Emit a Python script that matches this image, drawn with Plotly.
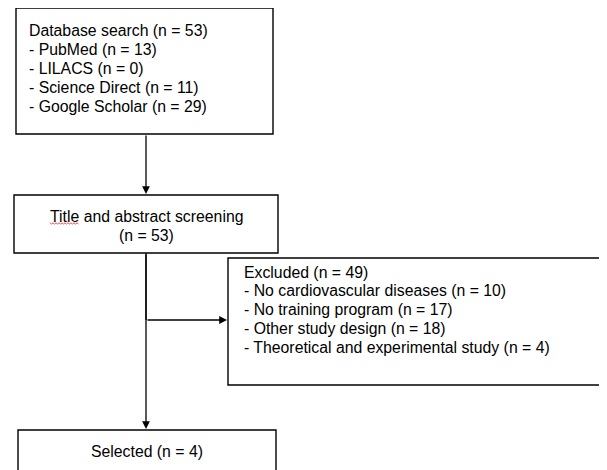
import plotly.graph_objects as go

# ---- data (flow diagram content) ----
search_title = "Database search (n = 53)"
search_sources = ["PubMed", "LILACS", "Science Direct", "Google Scholar"]
search_counts = [13, 0, 11, 29]

screen_label = "Title and abstract screening"
screen_count = 53

excluded_total = 49
excluded_reasons = ["No cardiovascular diseases", "No training program",
                    "Other study design", "Theoretical and experimental study"]
excluded_counts = [10, 17, 18, 4]

selected_count = 4

W, H = 607, 470
OFF = 8  # page body margin
FONT = "Liberation Sans, Arial, sans-serif"
FS = 15.8
LW = 1.4

fig = go.Figure()
fig.add_trace(go.Scatter(x=[0, W], y=[0, H], mode="markers",
                         marker=dict(opacity=0), hoverinfo="skip", showlegend=False))

shapes = []
def box(x0, y0, x1, y1):
    shapes.append(dict(type="rect", xref="x", yref="y", x0=x0, y0=y0, x1=x1, y1=y1,
                       line=dict(color="black", width=LW), fillcolor="white"))

def line(x0, y0, x1, y1):
    shapes.append(dict(type="line", xref="x", yref="y", x0=x0, y0=y0, x1=x1, y1=y1,
                       line=dict(color="black", width=1.3)))

box(16, 8, 273, 134)
box(14, 195, 278, 253)
box(228, 258, 640, 385)
box(18, 430, 276, 500)

line(146, 253, 146, 320)

annotations = []
def text(x, y, s, anchor="left"):
    annotations.append(dict(x=x, y=y, xref="x", yref="y", text=s, showarrow=False,
                            xanchor=anchor, yanchor="middle",
                            font=dict(family=FONT, size=FS, color="black")))

def arrow(x0, y0, x1, y1):
    annotations.append(dict(x=x1, y=y1, ax=x0, ay=y0, xref="x", yref="y",
                            axref="x", ayref="y", text="", showarrow=True,
                            arrowhead=2, arrowsize=1.2, arrowwidth=1.3,
                            arrowcolor="black", standoff=0, startstandoff=0))

lines1 = [search_title] + [f"- {s} (n = {c})" for s, c in zip(search_sources, search_counts)]
for i, s in enumerate(lines1):
    text(27, 30 + i * 19, s)

text(146, 216, screen_label, "center")
text(146, 235, f"(n = {screen_count})", "center")

lines3 = [f"Excluded (n = {excluded_total})"] + \
         [f"- {r} (n = {c})" for r, c in zip(excluded_reasons, excluded_counts)]
for i, s in enumerate(lines3):
    text(242, 272 + i * 18.8, s)

text(147, 451, f"Selected (n = {selected_count})", "center")

arrow(146, 134, 146, 194)
arrow(146, 320, 227, 320)
arrow(146, 253, 146, 429)

# red spell-check squiggle under "Title"
xs = [50 + i * 1.5 for i in range(20)]
path = "M " + " L ".join(f"{x},{223.5 + (0.8 if i % 2 else -0.8)}" for i, x in enumerate(xs))
shapes.append(dict(type="path", xref="x", yref="y", path=path,
                   line=dict(color="#e03030", width=0.8)))

fig.update_layout(
    width=W, height=H, margin=dict(l=0, r=0, t=0, b=0),
    paper_bgcolor="white", plot_bgcolor="white",
    xaxis=dict(range=[OFF, W + OFF], visible=False, fixedrange=True),
    yaxis=dict(range=[H + OFF, OFF], visible=False, fixedrange=True),
    shapes=shapes, annotations=annotations, showlegend=False,
)
fig.write_html("out.html")
